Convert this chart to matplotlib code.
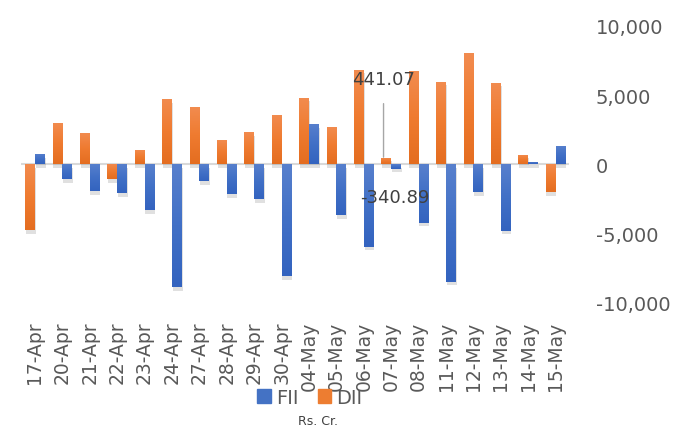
import matplotlib
matplotlib.use("Agg")
import matplotlib.pyplot as plt
import matplotlib.patheffects as pe
from matplotlib.colors import LinearSegmentedColormap
import numpy as np

dates = ["17-Apr", "20-Apr", "21-Apr", "22-Apr", "23-Apr", "24-Apr", "27-Apr",
         "28-Apr", "29-Apr", "30-Apr", "04-May", "05-May", "06-May", "07-May",
         "08-May", "11-May", "12-May", "13-May", "14-May", "15-May"]
fii = [725, -1090, -1960, -2100, -3330, -8915, -1230, -2175, -2540, -8120,
       2900, -3700, -5990, -340.89, -4230, -8530, -2055, -4830, 170, 1330]
dii = [-4780, 3000, 2275, -1090, 1015, 4710, 4130, 1740, 2320, 3550,
       4785, 2680, 6840, 441.07, 6770, 5970, 8025, 5900, 675, -2055]
yticks = [-10000, -5000, 0, 5000, 10000]

BLUE = "#4472C4"
ORANGE = "#ED7D31"
GRAY_TXT = "#595959"

plt.rcParams['font.family'] = ['DejaVu Sans']

fig = plt.figure(figsize=(6.87, 4.35), dpi=100)
ax = fig.add_axes([0.031, 0.303, 0.7977, 0.635])

x = np.arange(len(dates))
w = 0.36
shadow = [pe.SimplePatchShadow(offset=(0.5, -2.5), shadow_rgbFace='k', alpha=0.12), pe.Normal()]
b_dii = ax.bar(x - w / 2, dii, width=w, color=ORANGE, label="DII", zorder=3)
b_fii = ax.bar(x + w / 2, fii, width=w, color=BLUE, label="FII", zorder=3)

cm_o = LinearSegmentedColormap.from_list("o", ["#E46D20", "#EF7B30", "#F28C50"])
cm_b = LinearSegmentedColormap.from_list("b", ["#3363BF", "#4170C6", "#5880CD"])
grad = np.linspace(0, 1, 256).reshape(-1, 1)
for bars, cm in ((b_dii, cm_o), (b_fii, cm_b)):
    for b in bars:
        b.set_path_effects(shadow)
        x0, y0 = b.get_x(), b.get_y()
        bw, bh = b.get_width(), b.get_height()
        lo, hi = min(y0, y0 + bh), max(y0, y0 + bh)
        im = ax.imshow(grad, extent=[x0, x0 + bw, lo, hi], origin='lower',
                       aspect='auto', cmap=cm, zorder=3.5, interpolation='bilinear')
        im.set_clip_path(b)

ax.axhline(0, color="#D9D9D9", lw=1.5, zorder=2)
ax.set_xlim(-0.5, len(dates) - 0.5)
ax.set_ylim(-10000, 10000)
ax.set_aspect('auto')
ax.set_yticks(yticks)
ax.set_yticklabels([f"{v:,}" for v in yticks])
ax.yaxis.tick_right()
ax.tick_params(axis='y', length=0, pad=19, labelsize=14, labelcolor=GRAY_TXT)
for lbl in ax.get_yticklabels():
    lbl.set_horizontalalignment('left')
ax.set_xticks(x)
ax.set_xticklabels(dates, rotation=90)
ax.tick_params(axis='x', length=0, pad=13, labelsize=13.5, labelcolor=GRAY_TXT)
for s in ax.spines.values():
    s.set_visible(False)

# data labels for 07-May
i = dates.index("07-May")
ax.annotate(f"{dii[i]:.2f}", xy=(i - w / 2 - 0.1, dii[i] + 60), xytext=(0, 56),
            textcoords='offset points', ha='center', va='center', fontsize=13,
            color="#404040",
            arrowprops=dict(arrowstyle='-', color='#A6A6A6', lw=1, shrinkA=9, shrinkB=0),
            zorder=5)
ax.annotate(f"{fii[i]:.2f}", xy=(i + w / 2, fii[i]), xytext=(-1, -20),
            textcoords='offset points', ha='center', va='center', fontsize=13,
            color="#404040", zorder=5)

h_f = plt.Rectangle((0, 0), 1, 1, color=BLUE)
h_d = plt.Rectangle((0, 0), 1, 1, color=ORANGE)
fig.legend([h_f, h_d], ["FII", "DII"], loc='center', bbox_to_anchor=(0.451, 0.085),
           ncol=2, frameon=False, fontsize=14, handlelength=0.7, handleheight=0.7,
           handletextpad=0.25, columnspacing=1.0, labelcolor=GRAY_TXT)

fig.text(0.463, 0.016, "Rs. Cr.", ha='center', va='bottom', fontsize=9, color="#404040")

fig.savefig("out.png", dpi=100, facecolor='white')
